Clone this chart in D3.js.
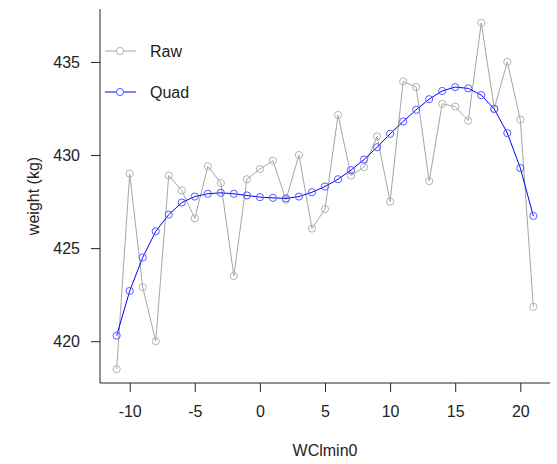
<!DOCTYPE html>
<html>
<head>
<meta charset="utf-8">
<script src="https://cdn.jsdelivr.net/npm/d3@7"></script>
<style>
body{margin:0;background:#fff;}
text{font-family:"Liberation Sans",Arial,sans-serif;}
</style>
</head>
<body>
<div class="canvas"></div>
<script>
// data
const wcl=[-11,-10,-9,-8,-7,-6,-5,-4,-3,-2,-1,0,1,2,3,4,5,6,7,8,9,10,11,12,13,14,15,16,17,18,19,20,21];
const raw=[418.5,429.0,422.9,420.0,428.9,428.1,426.6,429.4,428.5,423.5,428.7,429.25,429.7,427.6,430.0,426.05,427.1,432.15,428.9,429.35,431.0,427.5,433.95,433.65,428.6,432.75,432.6,431.85,437.1,432.5,435.0,431.9,421.85];
const quad=[420.3,422.7,424.5,425.9,426.8,427.45,427.77,427.92,427.97,427.92,427.83,427.74,427.7,427.67,427.77,428.0,428.31,428.7,429.19,429.76,430.42,431.14,431.8,432.43,433.0,433.44,433.65,433.58,433.22,432.47,431.18,429.3,426.73];
const yTicks=[420,425,430,435];
const xTicks=[-10,-5,0,5,10,15,20];

const svg=d3.select('.canvas').append('svg')
.attr("width",557)
.attr('height',464);

const pLeft=100,pRight=550,pTop=9,pBottom=383;

// R style 4% padding
const xMin=d3.min(wcl),xMax=d3.max(wcl);
const xPad=(xMax-xMin)*0.04;
const yMin=d3.min(raw.concat(quad)),yMax=d3.max(raw.concat(quad));
const yPad=(yMax-yMin)*0.04;

const x=d3.scaleLinear()
.domain([xMin-xPad,xMax+xPad])
.range([pLeft,pRight]);

const y=d3.scaleLinear()
.domain([yMin-yPad,yMax+yPad])
.range([pBottom,pTop]);

// axes (plain hyphen minus like R)
const xAxis=d3.axisBottom(x).tickValues(xTicks).tickSize(9).tickSizeOuter(0).tickPadding(14)
.tickFormat(d=>String(d));
const yAxis=d3.axisLeft(y).tickValues(yTicks).tickSize(9).tickSizeOuter(0).tickPadding(11)
.tickFormat(d=>String(d));

const xAxisGroup=svg.append('g').attr("transform",`translate(0,${pBottom})`).call(xAxis);
const yAxisGroup=svg.append('g').attr("transform",`translate(${pLeft},0)`).call(yAxis);

// L shaped box
xAxisGroup.select('.domain').remove();
yAxisGroup.select('.domain').remove();
svg.append('path')
.attr("d",`M${pLeft},${pTop}V${pBottom}H${pRight}`)
.attr("fill","none")
.attr("stroke","#222");

svg.selectAll('.tick line').attr("stroke","#222");
svg.selectAll('.tick text')
.attr("font-size",16)
.attr("font-family","Liberation Sans, Arial, sans-serif")
.attr("fill","#222");

// axis titles
svg.append('text')
.attr("x",(pLeft+pRight)/2)
.attr("y",450)
.attr("text-anchor","middle")
.attr("dominant-baseline","central")
.attr("font-size",16)
.attr("fill","#222")
.text("WClmin0");

svg.append('text')
.attr("transform",`translate(33,${(pTop+pBottom)/2}) rotate(-90)`)
.attr("text-anchor","middle")
.attr("dominant-baseline","central")
.attr("font-size",16)
.attr("fill","#222")
.text("weight (kg)");

// series
const series=[
  {name:"Raw",values:raw,line:"#a6a6a6",point:"#b4b4b4"},
  {name:"Quad",values:quad,line:"#0000ff",point:"#5a5aff"}
];

const line=d3.line()
.x((d,i)=>x(wcl[i]))
.y(d=>y(d));

series.forEach(s=>{
  svg.append('path')
  .datum(s.values)
  .attr("d",line)
  .attr("fill","none")
  .attr("stroke",s.line)
  .attr("stroke-width",1);

  svg.selectAll(null)
  .data(s.values)
  .enter().append('circle')
  .attr("cx",(d,i)=>x(wcl[i]))
  .attr("cy",d=>y(d))
  .attr("r",3.6)
  .attr("fill","none")
  .attr("stroke",s.point)
  .attr("stroke-width",1);
});

// legend
const legend=svg.append('g');
series.forEach((s,i)=>{
  const ly=51+i*41;
  legend.append('line')
  .attr("x1",105).attr("x2",136)
  .attr("y1",ly).attr("y2",ly)
  .attr("stroke",s.line);
  legend.append('circle')
  .attr("cx",120).attr("cy",ly).attr("r",3.6)
  .attr("fill","#fff")
  .attr("stroke",s.point);
  legend.append('text')
  .attr("x",150).attr("y",ly)
  .attr("dominant-baseline","central")
  .attr("font-size",16)
  .attr("fill","#222")
  .text(s.name);
});
</script>
</body>
</html>
